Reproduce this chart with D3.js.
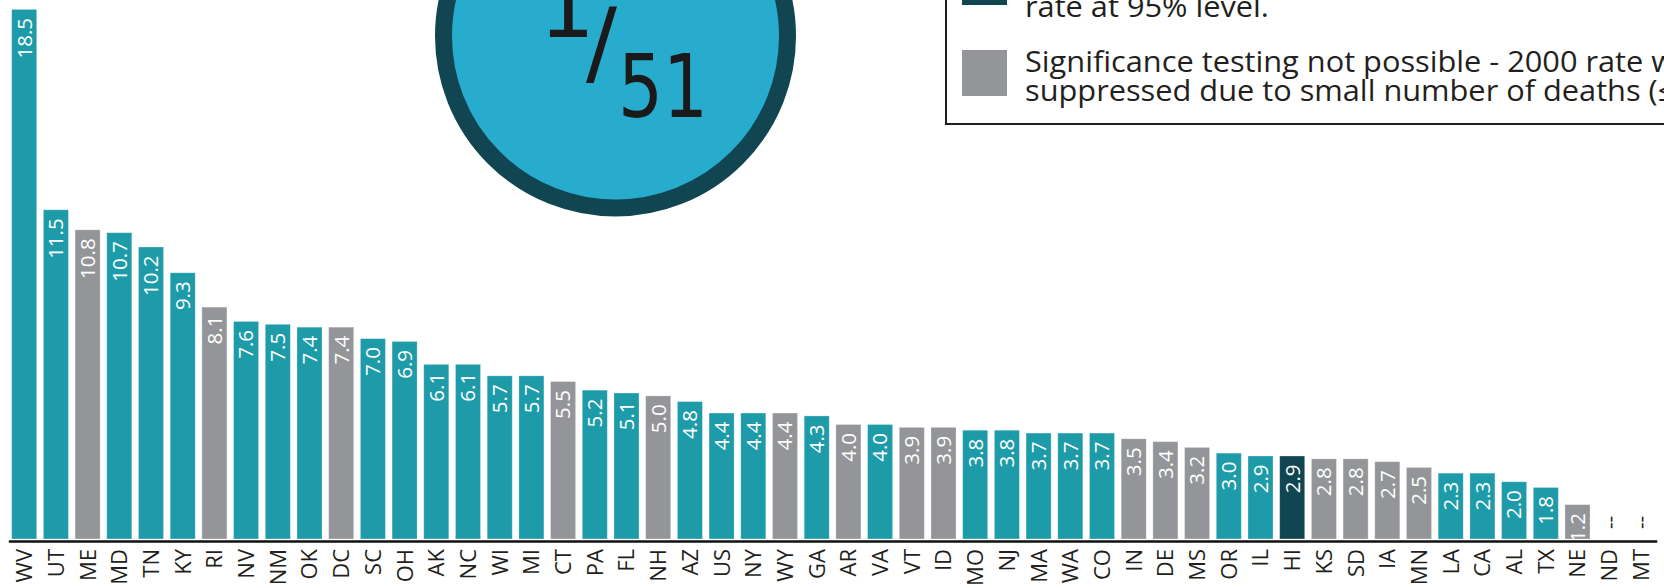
<!DOCTYPE html>
<html>
<head>
<meta charset="utf-8">
<script src="https://cdn.jsdelivr.net/npm/d3@7"></script>
<style>
  body { margin: 0; background: #fff; }
  svg { display: block; }
</style>
</head>
<body>
<div class="chart"></div>
<script>
var svgWidth = 1664;
var svgHeight = 588;

// states in ranked order, rate per 100,000
var states = ["WV", "UT", "ME", "MD", "TN", "KY", "RI", "NV", "NM", "OK", "DC", "SC", "OH",
  "AK", "NC", "WI", "MI", "CT", "PA", "FL", "NH", "AZ", "US", "NY", "WY", "GA", "AR", "VA",
  "VT", "ID", "MO", "NJ", "MA", "WA", "CO", "IN", "DE", "MS", "OR", "IL", "HI", "KS", "SD",
  "IA", "MN", "LA", "CA", "AL", "TX", "NE", "ND", "MT"];

var rates = [18.5, 11.5, 10.8, 10.7, 10.2, 9.3, 8.1, 7.6, 7.5, 7.4, 7.4, 7.0, 6.9,
  6.1, 6.1, 5.7, 5.7, 5.5, 5.2, 5.1, 5.0, 4.8, 4.4, 4.4, 4.4, 4.3, 4.0, 4.0,
  3.9, 3.9, 3.8, 3.8, 3.7, 3.7, 3.7, 3.5, 3.4, 3.2, 3.0, 2.9, 2.9, 2.8, 2.8,
  2.7, 2.5, 2.3, 2.3, 2.0, 1.8, 1.2, null, null];

// sig = significant change, ns = not significant, na = testing not possible
var testResult = ["sig", "sig", "na", "sig", "sig", "sig", "na", "sig", "sig", "sig", "na", "sig", "sig",
  "sig", "sig", "sig", "sig", "na", "sig", "sig", "na", "sig", "sig", "sig", "na", "sig", "na", "sig",
  "na", "na", "sig", "sig", "sig", "sig", "sig", "na", "na", "na", "sig", "sig", "ns", "na", "na",
  "na", "na", "sig", "sig", "sig", "sig", "na", "na", "na"];

var legendLines = [
  ["rate at 95% level."],
  ["Significance testing not possible - 2000 rate was",
   "suppressed due to small number of deaths (\u22649)."]
];
var legendKeys = ["ns", "na"];

var rankNum = "1";
var rankDen = "51";

var data = states.map(function(s, i) {
  return { state: s, rate: rates[i], test: testResult[i] };
});

var color = d3.scaleOrdinal()
  .domain(["sig", "ns", "na"])
  .range(["#1e9ba8", "#114552", "#939598"]);

var svg = d3.select(".chart")
  .append("svg")
  .attr("width", svgWidth)
  .attr("height", svgHeight);

var baseline = 539;

var xBandScale = d3.scaleBand()
  .domain(states)
  .range([8.35, 1656.75])
  .paddingInner(0.21)
  .paddingOuter(0.105);

var yLinearScale = d3.scaleLinear()
  .domain([0, 18.5])
  .range([baseline, 9.4]);

var chart = svg.append("g");

chart.selectAll("rect.bar")
  .data(data.filter(function(d) { return d.rate != null; }))
  .enter().append("rect")
    .attr("class", "bar")
    .attr("x", function(d) { return xBandScale(d.state); })
    .attr("y", function(d) { return yLinearScale(d.rate); })
    .attr("width", xBandScale.bandwidth())
    .attr("height", function(d) { return baseline - yLinearScale(d.rate); })
    .attr("fill", function(d) { return color(d.test); })
    .attr("stroke", "rgba(255,255,255,0.35)")
    .attr("stroke-width", 0.8);

// value labels inside the bars
chart.selectAll("text.val")
  .data(data)
  .enter().append("text")
    .attr("class", "val")
    .attr("transform", function(d) {
      var cx = xBandScale(d.state) + xBandScale.bandwidth() / 2;
      var y = d.rate == null ? baseline - 10 : yLinearScale(d.rate) + 8.5;
      return "translate(" + cx + "," + y + ") rotate(-90)";
    })
    .attr("dy", "0.36em")
    .attr("text-anchor", function(d) { return d.rate == null ? "start" : "end"; })
    .style("font-family", "'Open Sans', sans-serif")
    .style("font-size", "20.5px")
    .attr("fill", function(d) { return d.rate == null ? "#111" : "#fff"; })
    .text(function(d) { return d.rate == null ? "--" : d.rate.toFixed(1); });

// x axis
var bottomAxis = d3.axisBottom(xBandScale).tickSize(0).tickPadding(0);

var xAxis = chart.append("g")
  .attr("transform", "translate(0," + (baseline + 2) + ")")
  .call(bottomAxis);

xAxis.select(".domain")
  .attr("stroke", "#111")
  .attr("stroke-width", 2.6);

xAxis.selectAll(".tick text")
  .attr("transform", "translate(0,8) rotate(-90)")
  .attr("x", 0)
  .attr("y", 0)
  .attr("dy", "0.36em")
  .attr("text-anchor", "end")
  .style("font-family", "'Open Sans', sans-serif")
  .style("font-size", "22px")
  .attr("fill", "#231f20");

// rank badge
var badge = svg.append("g");

badge.append("circle")
  .attr("cx", 615.5)
  .attr("cy", 36)
  .attr("r", 172)
  .attr("fill", "#28accd")
  .attr("stroke", "#114552")
  .attr("stroke-width", 17);

badge.append("text")
  .attr("x", 567)
  .attr("y", 36.5)
  .attr("text-anchor", "middle")
  .style("font-family", "'DejaVu Sans', sans-serif")
  .style("font-size", "88px")
  .attr("fill", "#1a1a1a")
  .text(rankNum);

badge.append("text")
  .attr("x", 586)
  .attr("y", 74)
  .style("font-family", "'DejaVu Sans', sans-serif")
  .style("font-size", "92px")
  .attr("fill", "#1a1a1a")
  .text("/");

badge.append("text")
  .attr("x", 618)
  .attr("y", 117)
  .attr("textLength", 90)
  .attr("lengthAdjust", "spacingAndGlyphs")
  .style("font-family", "'DejaVu Sans', sans-serif")
  .style("font-size", "88px")
  .attr("fill", "#1a1a1a")
  .text(rankDen);

// legend (box runs off the top and right edge)
var legend = svg.append("g");

legend.append("rect")
  .attr("x", 946)
  .attr("y", -60)
  .attr("width", 900)
  .attr("height", 184)
  .attr("fill", "#fff")
  .attr("stroke", "#231f20")
  .attr("stroke-width", 2);

var keyTops = [-41, 50];
var firstBaselines = [17, 72];

legendKeys.forEach(function(k, i) {
  legend.append("rect")
    .attr("x", 962)
    .attr("y", keyTops[i])
    .attr("width", 45)
    .attr("height", 46)
    .attr("fill", color(k));

  var tg = legend.append("g");
  legendLines[i].forEach(function(line, j) {
    tg.append("text")
      .attr("x", 0)
      .attr("y", j * 28.5)
      .style("font-family", "'Open Sans', sans-serif")
      .style("font-size", "29px")
      .attr("fill", "#231f20")
      .text(line);
  });
  tg.attr("data-baseline", firstBaselines[i]);
});

// squeeze legend text to the narrow face of the original
var probe = legend.selectAll("g").filter(function(d, i) { return i === 1; }).select("text").node();
var sx = 405 / probe.getSubStringLength(0, 29);
legend.selectAll("g").each(function() {
  var g = d3.select(this);
  g.attr("transform", "translate(1025," + g.attr("data-baseline") + ") scale(" + sx + ",1)");
});
</script>
</body>
</html>
